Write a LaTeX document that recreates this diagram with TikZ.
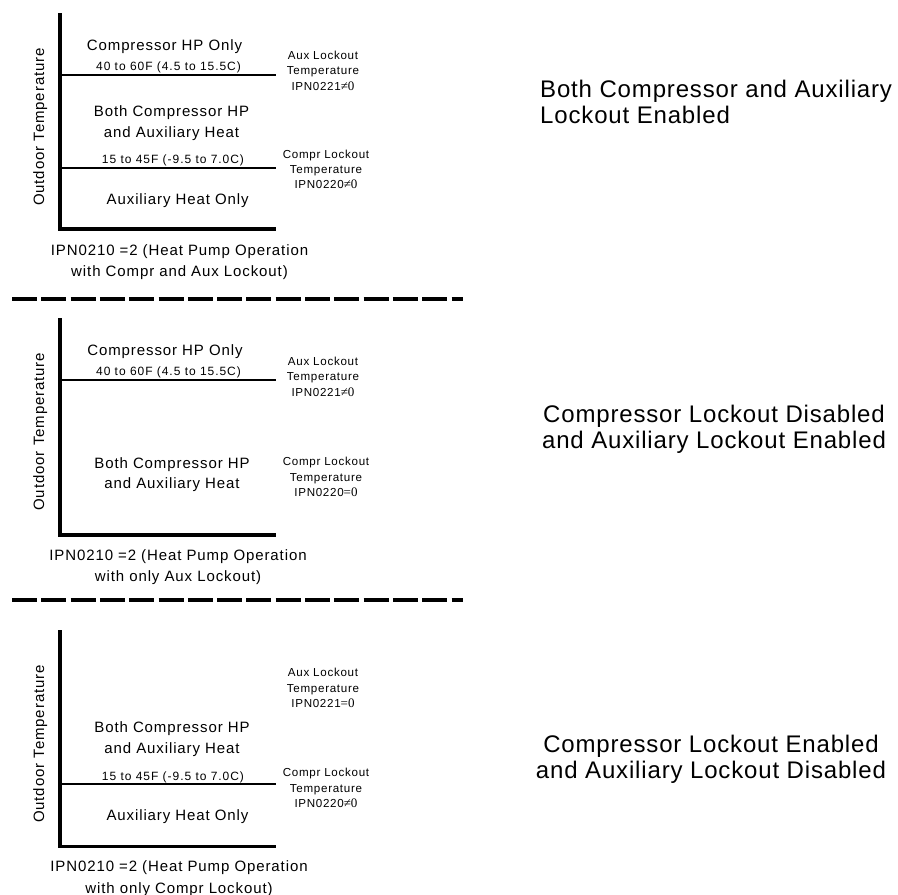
\documentclass[tikz,border=0pt]{standalone}
\usepackage{fontspec}
\setmainfont{Liberation Sans}
\newfontfamily\bigf[LetterSpace=6]{Liberation Sans}
\newfontfamily\rngf[LetterSpace=8]{Liberation Sans}
\newfontfamily\lockf[LetterSpace=6]{Liberation Sans}
\newfontfamily\titf[LetterSpace=3.5]{Liberation Sans}
\newfontfamily\serf{Liberation Serif}
\newcommand{\ml}[2][c]{\begin{tabular}[t]{@{}#1@{}}#2\end{tabular}}
\newcommand{\sr}[1]{{\serf\fontsize{13}{15.3}\selectfont #1}}
\tikzset{
  axisline/.style={line width=3.3pt, line join=miter},
  limline/.style={line width=1.7pt},
  sepline/.style={line width=4pt, dash pattern=on 25pt off 4.3pt},
  bigtxt/.style={inner sep=0pt, anchor=base, font=\bigf\fontsize{15}{20.6}\selectfont},
  ipntxt/.style={inner sep=0pt, anchor=base, font=\bigf\fontsize{15}{21.5}\selectfont},
  rngtxt/.style={inner sep=0pt, anchor=base, font=\rngf\fontsize{12}{14}\selectfont},
  locktxt/.style={inner sep=0pt, anchor=base, font=\lockf\fontsize{11.6}{15.3}\selectfont},
  titletxt/.style={inner sep=0pt, anchor=base, font=\titf\fontsize{24}{26}\selectfont},
  axtxt/.style={inner sep=0pt, anchor=base, rotate=90, font=\bigf\fontsize{15}{18}\selectfont},
}
\begin{document}
\begin{tikzpicture}[x=1pt,y=-1pt]
\useasboundingbox (0,0) rectangle (898,895);

% ---------- Panel 1 ----------
\draw[axisline] (60,13) -- (60,229) -- (276,229);
\draw[limline] (60,75) -- (276,75);
\draw[limline] (60,167.7) -- (276,167.7);
\node[bigtxt] (p1hp) at (164.5,50) {Compressor HP Only};
\node[rngtxt] (p1r1) at (168.5,70) {40 to 60F (4.5 to 15.5C)};
\node[locktxt] (p1aux) at (323,59.5) {\ml{Aux Lockout\\Temperature\\IPN0221\sr{≠0}}};
\node[bigtxt] (p1both) at (171.5,116.7) {\ml{Both Compressor HP\\and Auxiliary Heat}};
\node[rngtxt] (p1r2) at (173,163.3) {15 to 45F (-9.5 to 7.0C)};
\node[locktxt] (p1cmp) at (326,158) {\ml{Compr Lockout\\Temperature\\IPN0220\sr{≠0}}};
\node[bigtxt] (p1aho) at (177.7,204) {Auxiliary Heat Only};
\node[axtxt] (p1ax) at (44.2,127) {Outdoor Temperature};
\node[ipntxt] (p1ipn) at (179.5,255) {\ml{IPN0210 =2 (Heat Pump Operation\\with Compr and Aux Lockout)}};
\node[titletxt, anchor=base west] (p1t) at (540,97) {\ml[l]{Both Compressor and Auxiliary\\Lockout Enabled}};
\draw[sepline] (12,298.7) -- (463,298.7);

% ---------- Panel 2 ----------
\draw[axisline] (60,318.3) -- (60,535) -- (276,535);
\draw[limline] (60,380) -- (276,380);
\node[bigtxt] (p2hp) at (165,355) {Compressor HP Only};
\node[rngtxt] (p2r1) at (168.5,375.5) {40 to 60F (4.5 to 15.5C)};
\node[locktxt] (p2aux) at (323,365.5) {\ml{Aux Lockout\\Temperature\\IPN0221\sr{≠0}}};
\node[bigtxt] (p2both) at (172,468.3) {\ml{Both Compressor HP\\and Auxiliary Heat}};
\node[locktxt] (p2cmp) at (326,465.7) {\ml{Compr Lockout\\Temperature\\IPN0220\sr{=0}}};
\node[axtxt] (p2ax) at (44.2,431.7) {Outdoor Temperature};
\node[ipntxt] (p2ipn) at (178,560) {\ml{IPN0210 =2 (Heat Pump Operation\\with only Aux Lockout)}};
\node[titletxt] (p2t) at (714,422) {\ml{Compressor Lockout Disabled\\and Auxiliary Lockout Enabled}};
\draw[sepline] (12,600) -- (463,600);

% ---------- Panel 3 ----------
\draw[axisline] (60,630) -- (60,846.7) -- (276,846.7);
\draw[limline] (60,784.3) -- (276,784.3);
\node[locktxt] (p3aux) at (323,676.7) {\ml{Aux Lockout\\Temperature\\IPN0221\sr{=0}}};
\node[bigtxt] (p3both) at (172,732.7) {\ml{Both Compressor HP\\and Auxiliary Heat}};
\node[rngtxt] (p3r2) at (173,780) {15 to 45F (-9.5 to 7.0C)};
\node[locktxt] (p3cmp) at (326,776.7) {\ml{Compr Lockout\\Temperature\\IPN0220\sr{≠0}}};
\node[bigtxt] (p3aho) at (177.5,820.7) {Auxiliary Heat Only};
\node[axtxt] (p3ax) at (44.2,744) {Outdoor Temperature};
\node[ipntxt] (p3ipn) at (179,871.7) {\ml{IPN0210 =2 (Heat Pump Operation\\with only Compr Lockout)}};
\node[titletxt] (p3t) at (711,752) {\ml{Compressor Lockout Enabled\\and Auxiliary Lockout Disabled}};
\end{tikzpicture}
\end{document}
